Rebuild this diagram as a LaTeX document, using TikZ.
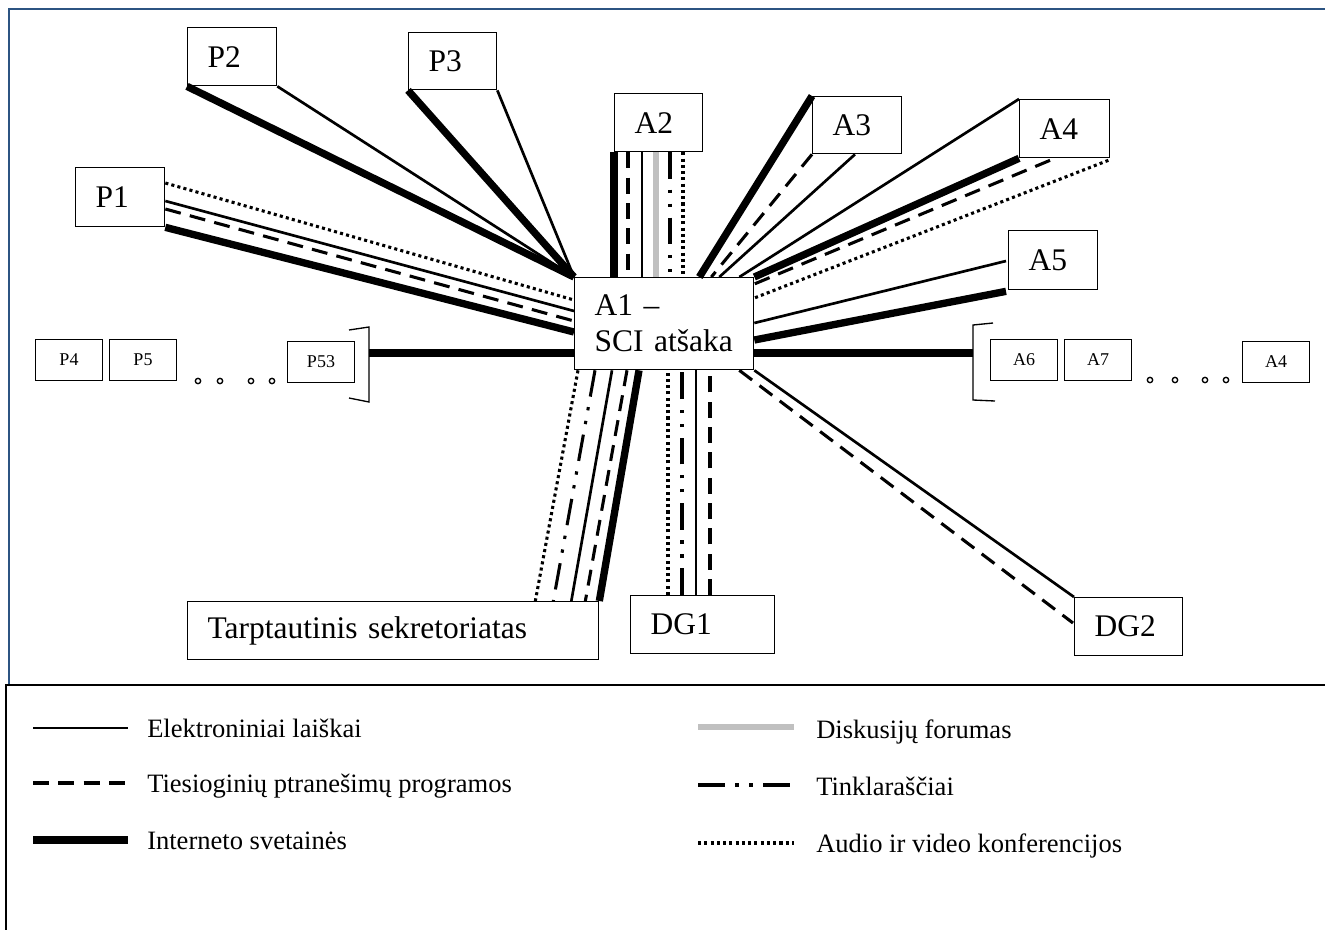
\documentclass[tikz,border=0pt]{standalone}
\usepackage{fontspec}
\setmainfont{Liberation Serif}
\usepackage{tikz}
\usetikzlibrary{calc}
\definecolor{frameblue}{RGB}{44,84,130}
\definecolor{forumgray}{RGB}{192,192,192}

\begin{document}
\begin{tikzpicture}[x=0.75pt,y=-0.75pt,
  box/.style={draw,line width=1pt,anchor=north west,inner xsep=15pt,inner ysep=0pt,minimum height=43.5pt,align=left,font=\fontsize{23.6}{27}\selectfont},
  smallbox/.style={draw,line width=1pt,anchor=north west,inner sep=0pt,minimum width=50pt,minimum height=30.5pt,font=\fontsize{13.5}{16}\selectfont},
  ring/.style={circle,draw,line width=1pt,inner sep=0pt,minimum size=4pt},
  legtext/.style={anchor=base west,inner sep=0pt,font=\fontsize{19.9}{24}\selectfont},
  email/.style={line width=2pt},
  chat/.style={line width=2.3pt,dash pattern=on 12pt off 7pt},
  web/.style={line width=5.5pt},
  forum/.style={line width=5pt,forumgray},
  blog/.style={line width=2.3pt,dash pattern=on 20pt off 8pt on 2.5pt off 8pt on 2.5pt off 8pt},
  conf/.style={line width=2.3pt,dash pattern=on 2.3pt off 2.4pt}]
\useasboundingbox (0,0) rectangle (1325,929);
\draw[frameblue,line width=1.5pt] (1326,9) -- (9,9) -- (9,685);
\draw[line width=1.5pt] (1326,685) -- (6,685) -- (6,930);

\node at (574,277) [box,text width=104.25pt,minimum height=69pt] (A1) {A1 –\\SCI atšaka};
\node at (75,167) [box,text width=36.75pt,minimum height=44.25pt] (P1) {P1};
\node at (187,27) [box,text width=36.75pt] (P2) {P2};
\node at (408,32) [box,text width=36pt,minimum height=42.75pt] (P3) {P3};
\node at (614,93) [box,text width=36pt] (A2) {A2};
\node at (812,96) [box,text width=36.75pt,minimum height=42.75pt] (A3) {A3};
\node at (1019,99) [box,text width=37.5pt] (A4) {A4};
\node at (1008,230) [box,text width=36.75pt,minimum height=44.25pt] (A5) {A5};
\node at (187,601) [box,text width=278.25pt] (TS) {Tarptautinis sekretoriatas};
\node at (630,595) [box,text width=78pt] (DG1) {DG1};
\node at (1074,597) [box,text width=51pt] (DG2) {DG2};

\node at (35,339) [smallbox] (P4) {P4};
\node at (109,339) [smallbox] (P5) {P5};
\node at (287,341) [smallbox] (P53) {P53};
\node at (990,339) [smallbox] (A6) {A6};
\node at (1064,339) [smallbox] (A7) {A7};
\node at (1242,341) [smallbox] (An) {A4};

\node at (198,381) [ring] (Ld1) {};
\node at (220,381) [ring] (Ld2) {};
\node at (251,381) [ring] (Ld3) {};
\node at (272,381) [ring] (Ld4) {};
\node at (1150,380) [ring] (Rd1) {};
\node at (1175,380) [ring] (Rd2) {};
\node at (1205,380) [ring] (Rd3) {};
\node at (1226,380) [ring] (Rd4) {};

\draw[line width=1pt] (349,330) -- (369,327) -- (369,402) -- (349,398);
\draw[line width=1pt] (993,323) -- (973,325) -- (973,400) -- (995,401);
\coordinate (LB) at (369,353);
\coordinate (RB) at (973,353);

\draw[web] (P2.south west) -- (A1.north west);
\draw[email] (P2.south east) -- (A1.north west);
\draw[web] (P3.south west) -- (A1.north west);
\draw[email] (P3.south east) -- (A1.north west);

\draw[conf] ($(P1.north east)+(0,16)$) -- ($(A1.north west)+(0,23)$);
\draw[email] ($(P1.north east)+(0,34)$) -- ($(A1.north west)+(0,34)$);
\draw[chat] ($(P1.north east)+(0,42)$) -- ($(A1.north west)+(0,44)$);
\draw[web] (P1.south east) -- ($(A1.north west)+(0,55)$);

\draw[web] (A2.south west) -- (A2.south west |- A1.north);
\draw[chat] ($(A2.south west)+(14,0)$) -- ($(A2.south west |- A1.north)+(14,0)$);
\draw[email] ($(A2.south west)+(28,0)$) -- ($(A2.south west |- A1.north)+(28,0)$);
\draw[forum] ($(A2.south west)+(42,0)$) -- ($(A2.south west |- A1.north)+(42,0)$);
\draw[blog] ($(A2.south west)+(56,0)$) -- ($(A2.south west |- A1.north)+(56,0)$);
\draw[conf] ($(A2.south west)+(69,0)$) -- ($(A2.south west |- A1.north)+(69,0)$);

\draw[web] (A3.north west) -- ($(A1.north east)+(-55,0)$);
\draw[chat] (A3.south west) -- ($(A1.north east)+(-43,0)$);
\draw[email] ($(A3.south west)+(43,0)$) -- ($(A1.north east)+(-35,0)$);

\draw[email] (A4.north west) -- ($(A1.north east)+(-15,0)$);
\draw[web] (A4.south west) -- (A1.north east);
\draw[chat] ($(A4.south west)+(31,2)$) -- ($(A1.north east)+(0,7)$);
\draw[conf] ($(A4.south east)+(-2,2)$) -- ($(A1.north east)+(0,21)$);

\draw[email] ($(A5.north west)+(-2,31)$) -- ($(A1.north east)+(0,46)$);
\draw[web] ($(A5.south west)+(-2,1)$) -- ($(A1.north east)+(0,63)$);

\draw[web] (LB) -- (LB -| A1.west);
\draw[web] (RB -| A1.east) -- (RB);

\draw[conf] ($(A1.south west)+(4,0)$) -- ($(TS.north east)+(-64,0)$);
\draw[blog] ($(A1.south west)+(21,0)$) -- ($(TS.north east)+(-46,0)$);
\draw[email] ($(A1.south west)+(38,0)$) -- ($(TS.north east)+(-28,0)$);
\draw[chat] ($(A1.south west)+(53,0)$) -- ($(TS.north east)+(-14,0)$);
\draw[web] ($(A1.south west)+(65,0)$) -- (TS.north east);

\draw[conf] ($(DG1.north west)+(38,0)$) -- ($(DG1.north west |- A1.south)+(38,0)$);
\draw[blog] ($(DG1.north west)+(52,0)$) -- ($(DG1.north west |- A1.south)+(52,0)$);
\draw[email] ($(DG1.north west)+(66,0)$) -- ($(DG1.north west |- A1.south)+(66,0)$);
\draw[chat] ($(DG1.north west)+(80,0)$) -- ($(DG1.north west |- A1.south)+(80,0)$);

\draw[email] (A1.south east) -- (DG2.north west);
\draw[chat] ($(A1.south east)+(-15,0)$) -- ($(DG2.north west)+(-1,26)$);

\node at (147,737) [legtext] (Lmail) {Elektroniniai laiškai};
\node at (147,792) [legtext] (Lchat) {Tiesioginių ptranešimų programos};
\node at (147,849) [legtext] (Lweb) {Interneto svetainės};
\node at (816,738) [legtext] (Lforum) {Diskusijų forumas};
\node at (816,795) [legtext] (Lblog) {Tinklaraščiai};
\node at (816,852) [legtext] (Lconf) {Audio ir video konferencijos};
\draw[email] ($(Lmail.base west)+(-114,-9)$) -- ($(Lmail.base west)+(-19,-9)$);
\draw[chat] ($(Lchat.base west)+(-114,-9)$) -- ($(Lchat.base west)+(-19,-9)$);
\draw[web] ($(Lweb.base west)+(-114,-9)$) -- ($(Lweb.base west)+(-19,-9)$);
\draw[forum] ($(Lforum.base west)+(-118,-11)$) -- ($(Lforum.base west)+(-22,-11)$);
\draw[blog] ($(Lblog.base west)+(-118,-10)$) -- ($(Lblog.base west)+(-22,-10)$);
\draw[conf] ($(Lconf.base west)+(-118,-9)$) -- ($(Lconf.base west)+(-22,-9)$);

\end{tikzpicture}
\end{document}
